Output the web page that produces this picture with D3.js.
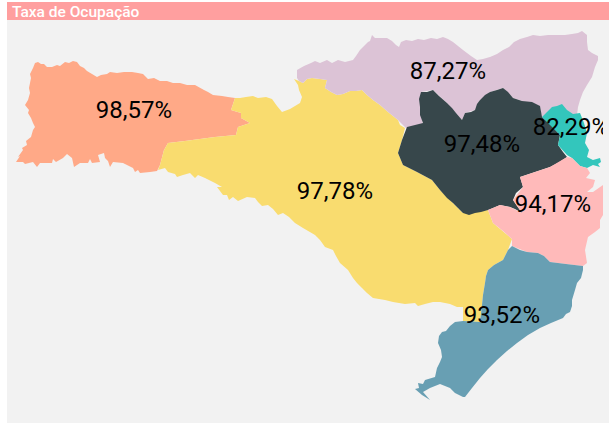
<!DOCTYPE html>
<html lang="en">
<head>
    <meta charset="UTF-8">
    <title>Taxa de Ocupação</title>
    <script src="https://cdn.jsdelivr.net/npm/d3@7"></script>
    <style>
        html, body { margin: 0; padding: 0; background: #fff; overflow: hidden; }
        text { font-family: Roboto, sans-serif; }
    </style>
</head>
<body>
<div id="chart"></div>
<script>
    // Regions, drawing order follows the overlaps in the picture
    const regions = ['Oeste', 'Serra', 'Norte', 'Vale', 'Litoral', 'Grande Florianopolis', 'Sul'];
    const rates = [98.57, 97.78, 87.27, 97.48, 82.29, 94.17, 93.52];
    const regionColors = ['#ffa987', '#f9dc6f', '#dcc3d6', '#37474b', '#33c6bc', '#ffbaba', '#689fb3'];

    // Outlines, in map units
    const oeste = [[38,62],[41,64],[44,64],[47,67],[52,67],[57,65],[60,66],[65,62],[69,63],[73,61],[77,62],[80,66],[84,68],[87,71],[92,74],[97,77],[101,75],[107,74],[110,72],[117,73],[124,72],[132,72],[138,73],[143,74],[148,79],[154,78],[160,81],[167,81],[173,83],[180,83],[187,85],[195,85],[204,90],[208,92],[213,95],[222,96],[228,97],[235,98],[231,110],[241,113],[241,118],[250,123],[238,127],[236,135],[215,137],[185,141],[168,143],[164,150],[160,165],[157,171],[150,172],[140,173],[138,170],[135,172],[133,168],[123,163],[113,162],[110,167],[108,161],[105,158],[104,153],[98,155],[100,162],[92,163],[90,159],[88,163],[80,163],[74,167],[72,158],[67,154],[63,158],[56,162],[53,159],[52,163],[40,163],[37,167],[33,162],[25,164],[23,162],[16,162],[20,156],[18,157],[23,150],[22,148],[27,145],[26,141],[31,137],[33,130],[35,127],[33,123],[31,118],[28,113],[29,110],[25,105],[28,100],[30,93],[29,88],[31,78],[30,74],[33,68],[35,63]];
    const serra = [[235,98],[240,98],[246,97],[253,96],[258,98],[266,97],[272,99],[277,106],[282,112],[290,109],[300,103],[302,97],[299,90],[298,85],[294,79],[299,81],[303,83],[307,79],[312,78],[320,79],[327,80],[325,88],[331,92],[337,95],[343,94],[350,91],[356,91],[362,90],[367,95],[373,100],[380,105],[388,112],[398,120],[400,125],[405,128],[402,140],[398,153],[403,165],[417,172],[432,180],[440,190],[453,203],[463,213],[488,210],[493,223],[512,239],[508,250],[503,260],[494,265],[488,270],[486,276],[485,283],[483,295],[482,305],[480,322],[463,321],[463,307],[457,307],[450,304],[440,302],[433,302],[425,304],[418,306],[415,303],[405,304],[393,302],[385,300],[373,298],[367,293],[362,288],[357,283],[353,278],[348,270],[340,263],[336,256],[333,250],[325,247],[320,240],[315,235],[303,228],[295,223],[289,217],[283,213],[278,215],[273,209],[268,205],[262,206],[258,202],[255,198],[247,197],[238,201],[233,197],[229,200],[227,195],[223,195],[217,187],[222,187],[215,183],[205,178],[198,175],[195,178],[190,173],[183,175],[177,177],[175,174],[168,172],[165,168],[158,170],[160,165],[164,150],[168,143],[185,141],[215,137],[236,135],[238,127],[250,123],[241,118],[241,113],[231,110]];
    const norte = [[297,70],[304,66],[311,63],[315,61],[320,63],[327,60],[332,63],[338,60],[345,62],[353,60],[356,56],[360,50],[364,46],[368,42],[370,41],[372,35],[375,38],[382,38],[387,38],[392,41],[396,45],[399,47],[401,42],[406,40],[412,41],[418,39],[424,40],[431,38],[437,39],[443,37],[448,39],[453,42],[458,46],[463,50],[467,53],[471,56],[477,60],[483,59],[490,57],[497,54],[503,50],[509,47],[514,42],[520,39],[527,37],[533,35],[540,36],[548,35],[557,35],[565,35],[572,34],[578,33],[582,31],[587,35],[587,42],[588,50],[592,53],[598,56],[598,60],[595,67],[592,77],[587,85],[583,92],[580,100],[578,107],[577,115],[573,116],[562,106],[542,119],[540,107],[513,98],[503,88],[490,92],[480,100],[475,110],[465,113],[462,120],[447,103],[433,90],[421,92],[420,107],[423,125],[407,129],[398,120],[388,112],[380,105],[373,100],[367,95],[362,90],[356,91],[350,91],[343,94],[337,95],[331,92],[325,88],[327,80],[320,79],[312,78],[307,79],[303,83],[299,81],[297,78]];
    const vale = [[421,92],[427,92],[433,90],[439,96],[447,103],[452,108],[456,113],[462,120],[465,113],[471,112],[475,110],[477,104],[480,100],[485,95],[490,92],[497,90],[503,88],[508,92],[513,98],[522,101],[532,102],[540,106],[542,117],[551,125],[560,135],[558,145],[563,152],[567,157],[558,163],[550,167],[535,172],[520,177],[523,187],[516,193],[513,200],[517,206],[522,213],[515,209],[510,207],[500,205],[493,208],[488,210],[481,212],[475,213],[469,215],[463,213],[458,208],[453,203],[447,198],[440,190],[432,180],[417,172],[403,165],[398,153],[402,140],[407,127],[415,125],[423,123],[420,115],[420,107],[419,99]];
    const litoral = [[542,117],[547,112],[552,107],[557,106],[562,104],[567,110],[573,114],[580,113],[584,123],[587,133],[585,143],[589,150],[587,157],[593,160],[600,158],[601,162],[598,164],[600,167],[593,165],[587,168],[580,166],[572,158],[567,155],[558,145],[560,135]];
    const floripa = [[567,157],[572,158],[580,166],[587,168],[590,173],[586,178],[595,180],[593,187],[587,192],[593,192],[603,185],[610,185],[610,215],[603,215],[600,220],[600,228],[595,232],[588,237],[585,250],[587,263],[583,266],[566,264],[550,262],[544,256],[538,253],[527,252],[512,246],[512,239],[503,231],[493,223],[488,210],[500,205],[510,207],[522,213],[513,200],[523,187],[520,177],[535,172],[550,167]];
    const sul = [[512,246],[520,250],[527,252],[538,253],[544,256],[550,262],[566,264],[583,266],[583,270],[581,278],[577,283],[575,290],[572,300],[572,306],[570,312],[566,314],[563,318],[551,323],[540,328],[528,335],[517,343],[507,351],[497,360],[488,369],[480,378],[472,388],[465,397],[463,397],[455,393],[450,388],[440,384],[430,388],[423,392],[430,400],[422,395],[415,389],[419,388],[418,383],[423,384],[425,380],[435,377],[437,368],[440,362],[442,357],[441,350],[438,343],[439,336],[442,332],[446,331],[450,326],[455,322],[463,321],[480,322],[482,305],[483,295],[485,283],[486,276],[488,270],[494,265],[503,260],[508,250]];
    const outlines = [oeste, serra, norte, vale, litoral, floripa, sul];

    // Label anchors, in map units
    const labelX = [134, 335, 448, 482, 571, 553, 502];
    const labelY = [118, 199, 79, 152, 135, 212, 323];

    const titleText = 'Taxa de Ocupação';

    const width = 609, height = 423;

    const svg = d3.select('#chart').append('svg')
        .attr('width', width)
        .attr('height', height)
        .style('display', 'block');

    const x = d3.scaleLinear().domain([0, 609]).range([0, width]);
    const y = d3.scaleLinear().domain([0, 423]).range([0, height]);

    // Panel and title bar
    svg.append('rect').attr('x', 7).attr('y', 20).attr('width', width - 7).attr('height', height - 20).attr('fill', '#f2f2f2');
    svg.append('rect').attr('x', 7).attr('y', 2).attr('width', width - 7).attr('height', 18).attr('fill', '#ff9f9f');
    svg.append('text')
        .attr('x', 12)
        .attr('y', 17)
        .attr('fill', '#fff')
        .attr('font-size', 15.5)
        .attr('font-weight', 500)
        .text(titleText);

    // The map visual stops short of the panel edge
    svg.append('clipPath').attr('id', 'map-clip')
        .append('rect').attr('x', 7).attr('y', 20).attr('width', 596).attr('height', 403);

    const map = svg.append('g').attr('clip-path', 'url(#map-clip)');

    const line = d3.line()
        .x(d => x(d[0]))
        .y(d => y(d[1]))
        .curve(d3.curveLinearClosed);

    map.selectAll('path')
        .data(regions)
        .enter().append('path')
        .attr('d', (d, i) => line(outlines[i]))
        .attr('fill', (d, i) => regionColors[i]);

    const fmt = d => d.toFixed(2).replace('.', ',') + '%';

    map.selectAll('text')
        .data(regions)
        .enter().append('text')
        .attr('x', (d, i) => x(labelX[i]))
        .attr('y', (d, i) => y(labelY[i]))
        .attr('text-anchor', 'middle')
        .attr('font-size', 24)
        .attr('fill', '#000')
        .text((d, i) => fmt(rates[i]));
</script>
</body>
</html>
